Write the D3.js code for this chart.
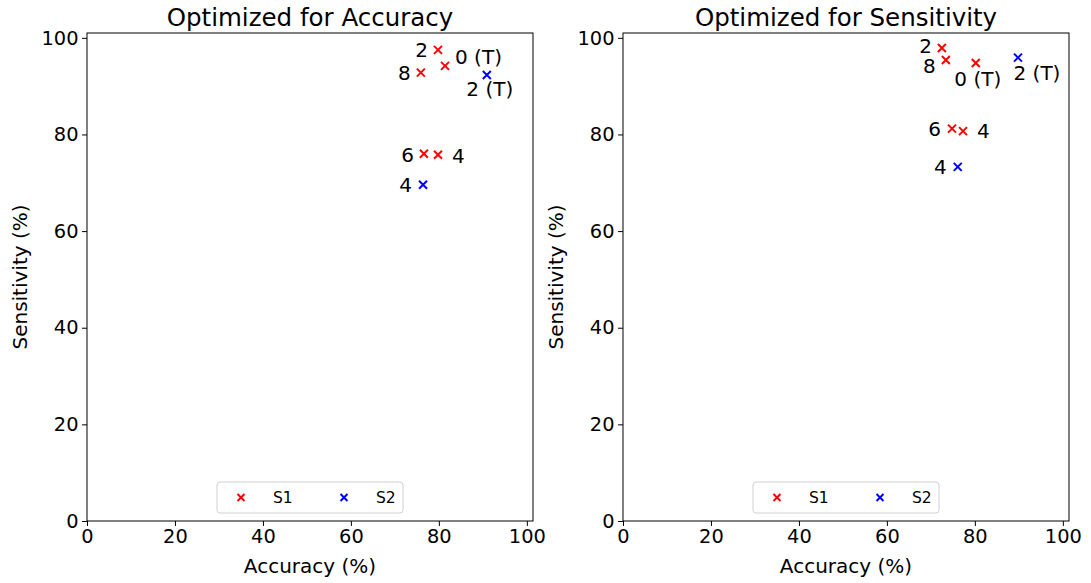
<!DOCTYPE html>
<html>
<head>
<meta charset="utf-8">
<script src="https://cdn.jsdelivr.net/npm/d3@7"></script>
<style>
  html, body { margin: 0; padding: 0; background: #fff; }
  svg { display: block; font-family: "DejaVu Sans", sans-serif; }
</style>
</head>
<body>
<svg id="chart" width="1091" height="583"></svg>
<script>
// Panel titles
const titles = ["Optimized for Accuracy", "Optimized for Sensitivity"];

// Series names and colours
const seriesNames = ["S1", "S2"];
const seriesColors = ["#ff0000", "#0000ff"];

// Point labels per panel
const labelsAcc = ["2", "0 (T)", "8", "6", "4", "2 (T)", "4"];
const labelsSen = ["2", "8", "0 (T)", "6", "4", "2 (T)", "4"];
// Series index per point
const seriesAcc = [0, 0, 0, 0, 0, 1, 1];
const seriesSen = [0, 0, 0, 0, 0, 1, 1];
// Accuracy (%) values
const accAcc = [79.8, 81.4, 75.9, 76.6, 79.8, 90.9, 76.4];
const accSen = [72.5, 73.4, 80.2, 74.8, 77.3, 89.8, 76.1];
// Sensitivity (%) values
const senAcc = [97.5, 94.2, 92.8, 76.0, 75.8, 92.3, 69.6];
const senSen = [97.9, 95.4, 94.8, 81.2, 80.7, 95.9, 73.3];

// Tick values
const ticks = [0, 20, 40, 60, 80, 100];

// Label placement (offset from the mark, text anchor)
const placeAcc = [
  {dx: -10, dy: 0, a: "end"},
  {dx: 10, dy: -9, a: "start"},
  {dx: -10, dy: 0, a: "end"},
  {dx: -10, dy: 1, a: "end"},
  {dx: 14, dy: 1, a: "start"},
  {dx: 3, dy: 14, a: "middle"},
  {dx: -11, dy: 0, a: "end"}
];
const placeSen = [
  {dx: -10, dy: -2, a: "end"},
  {dx: -10, dy: 6, a: "end"},
  {dx: 2, dy: 16, a: "middle"},
  {dx: -11, dy: 0, a: "end"},
  {dx: 14, dy: 0, a: "start"},
  {dx: 19, dy: 15, a: "middle"},
  {dx: -11, dy: 0, a: "end"}
];

const panels = [
  {title: titles[0], x: accAcc, y: senAcc, s: seriesAcc, lab: labelsAcc, place: placeAcc, left: 87},
  {title: titles[1], x: accSen, y: senSen, s: seriesSen, lab: labelsSen, place: placeSen, left: 623}
];

const svg = d3.select("#chart");
const plotTop = 33, plotBottom = 521, pw = 446;

function xMark(g, cx, cy, color, r) {
  g.append("path")
    .attr("d", `M${cx - r},${cy - r}L${cx + r},${cy + r}M${cx - r},${cy + r}L${cx + r},${cy - r}`)
    .attr("stroke", color).attr("stroke-width", 2).attr("fill", "none");
}

panels.forEach(p => {
  const x = d3.scaleLinear().domain([0, 101.4]).range([p.left, p.left + pw]);
  const y = d3.scaleLinear().domain([0, 101]).range([plotBottom, plotTop]);
  const g = svg.append("g");

  // axes
  const xa = g.append("g").attr("transform", `translate(0,${plotBottom})`)
    .call(d3.axisBottom(x).tickValues(ticks).tickSize(5).tickPadding(3.5).tickFormat(d3.format("d")));
  const ya = g.append("g").attr("transform", `translate(${p.left},0)`)
    .call(d3.axisLeft(y).tickValues(ticks).tickSize(5).tickPadding(3.5).tickFormat(d3.format("d")));
  [xa, ya].forEach(a => {
    a.select(".domain").remove();
    a.selectAll("line").attr("stroke", "#000").attr("stroke-width", 1);
    a.selectAll("text").attr("font-size", "19.4px").attr("fill", "#000")
      .attr("font-family", "DejaVu Sans, sans-serif");
  });

  // frame
  g.append("rect").attr("x", p.left).attr("y", plotTop).attr("width", pw).attr("height", plotBottom - plotTop)
    .attr("fill", "none").attr("stroke", "#000").attr("stroke-width", 1);

  // title
  g.append("text").attr("x", p.left + pw / 2).attr("y", 26).attr("text-anchor", "middle")
    .attr("font-size", "24.5px").text(p.title);

  // axis labels
  g.append("text").attr("x", p.left + pw / 2).attr("y", 573).attr("text-anchor", "middle")
    .attr("font-size", "20px").text("Accuracy (%)");
  g.append("text").attr("transform", `translate(${p.left - 60},${(plotTop + plotBottom) / 2}) rotate(-90)`)
    .attr("text-anchor", "middle").attr("font-size", "20px").text("Sensitivity (%)");

  // marks and their labels
  p.x.forEach((v, i) => {
    const cx = x(v), cy = y(p.y[i]);
    xMark(g, cx, cy, seriesColors[p.s[i]], 4);
    const pl = p.place[i];
    g.append("text").attr("x", cx + pl.dx).attr("y", cy + pl.dy)
      .attr("text-anchor", pl.a).attr("dominant-baseline", "central")
      .attr("font-size", "20px").text(p.lab[i]);
  });

  // legend
  const lw = 186, lh = 31;
  const lx = p.left + pw / 2 - lw / 2, ly = 482;
  g.append("rect").attr("x", lx).attr("y", ly).attr("width", lw).attr("height", lh)
    .attr("rx", 3).attr("fill", "#fff").attr("fill-opacity", 0.8)
    .attr("stroke", "#d0d0d0").attr("stroke-width", 1);
  seriesNames.forEach((n, k) => {
    const mx = lx + 24 + k * 103, my = ly + lh / 2;
    xMark(g, mx, my, seriesColors[k], 3.5);
    g.append("text").attr("x", mx + 32).attr("y", my).attr("dominant-baseline", "central")
      .attr("font-size", "15.5px").text(n);
  });
});
</script>
</body>
</html>
